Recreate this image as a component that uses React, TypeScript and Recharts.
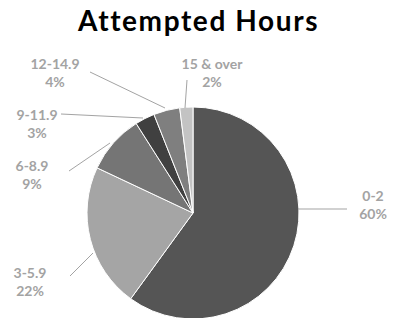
import { PieChart, Pie, Cell } from "recharts";

const categories = ["0-2", "3-5.9", "6-8.9", "9-11.9", "12-14.9", "15 & over"];
const shares = [60, 22, 9, 3, 4, 2];
const sliceColors = ["#555555", "#a5a5a5", "#757575", "#404040", "#7f7f7f", "#c3c3c3"];

// leader line start/end and text baseline, relative to the pie centre
const labelLayout = [
  { sx: 105, sy: -4, ex: 154, ey: -4, tx: 180, ty: -12 },
  { sx: -100, sy: 40, ex: -123, ey: 63, tx: -163, ty: 65 },
  { sx: -83, sy: -70, ex: -124, ey: -42, tx: -161, ty: -42 },
  { sx: -50, sy: -95, ex: -132, ey: -99, tx: -156, ty: -93 },
  { sx: -28, sy: -105, ex: -103, ey: -141, tx: -138, ty: -144 },
  { sx: -8, sy: -105, ex: -6, ey: -133, tx: 19, ty: -144 },
];

const data = categories.map((name, i) => ({ name, value: shares[i] }));

const LABEL_COLOR = "#a3a3a3";

function renderLabel(props: any) {
  const { cx, cy, index, name, percent } = props;
  const l = labelLayout[index];
  return (
    <g>
      <line x1={cx + l.sx} y1={cy + l.sy} x2={cx + l.ex} y2={cy + l.ey} stroke={LABEL_COLOR} strokeWidth={1} />
      <text x={cx + l.tx} y={cy + l.ty} textAnchor="middle" fill={LABEL_COLOR} fontSize={14} fontWeight={700} fontFamily="Lato">
        <tspan x={cx + l.tx} dy={0}>{name}</tspan>
        <tspan x={cx + l.tx} dy={18}>{`${Math.round(percent * 100)}%`}</tspan>
      </text>
    </g>
  );
}

export default function App() {
  return (
    <div style={{ position: "relative", width: 397, height: 318, background: "#fff", fontFamily: "Lato" }}>
      <style>{`body{margin:0}`}</style>
      <div style={{ position: "absolute", top: 3, left: 0, width: 397, textAlign: "center", fontSize: 28, letterSpacing: 1.6, fontWeight: 700, color: "#000" }}>
        Attempted Hours
      </div>
      <PieChart width={397} height={318} margin={{ top: 0, right: 0, bottom: 0, left: 0 }} style={{ position: "absolute", top: 0, left: 0 }}>
        <Pie
          data={data}
          dataKey="value"
          nameKey="name"
          cx={193}
          cy={213}
          outerRadius={106}
          startAngle={90}
          endAngle={-270}
          stroke="#ffffff"
          strokeWidth={1}
          label={renderLabel}
          labelLine={false}
          isAnimationActive={false}
        >
          {data.map((d, i) => (
            <Cell key={d.name} fill={sliceColors[i]} />
          ))}
        </Pie>
      </PieChart>
    </div>
  );
}
